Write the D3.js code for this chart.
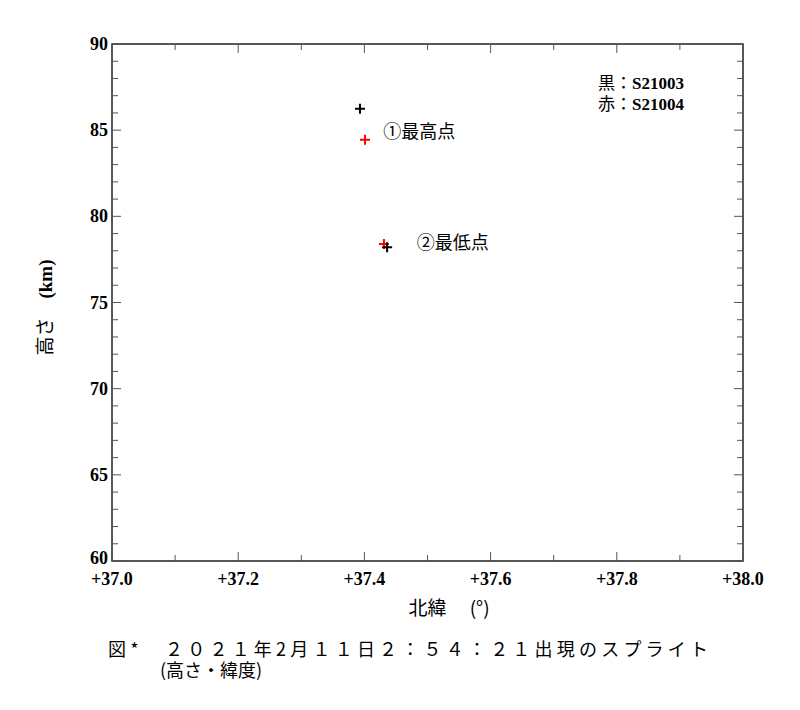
<!DOCTYPE html>
<html><head><meta charset="utf-8">
<script src="https://cdn.jsdelivr.net/npm/d3@7"></script>
<style>body{margin:0;background:#fff}</style></head>
<body><svg id="c" width="800" height="710"></svg>
<script>
const blackPts = [[37.393, 86.25], [37.436, 78.2]];
const redPts = [[37.401, 84.45], [37.431, 78.4]];
const xTicks = [37.0, 37.2, 37.4, 37.6, 37.8, 38.0];
const yTicks = [60, 65, 70, 75, 80, 85, 90];
const labels = [["①最高点", 37.43, 84.55], ["②最低点", 37.483, 78.1]];

const svg = d3.select("#c");
const L=112,R=743,T=44,B=561;
const x = d3.scaleLinear().domain([37,38]).range([L,R]);
const y = d3.scaleLinear().domain([60,90]).range([B,T]);
const serif = "'Liberation Serif','DejaVu Serif',serif";
const jp = "'Noto Sans CJK JP',sans-serif";
svg.append("rect").attr("x",L).attr("y",T).attr("width",R-L).attr("height",B-T).attr("fill","none").attr("stroke","#222").attr("stroke-width",1.5);
const g = svg.append("g").attr("stroke","#555").attr("stroke-width",1);
d3.range(37,38.001,0.1).forEach((v,i)=>{const len=i%2?6:9;
 g.append("line").attr("x1",x(v)).attr("x2",x(v)).attr("y1",B).attr("y2",B-len);
 g.append("line").attr("x1",x(v)).attr("x2",x(v)).attr("y1",T).attr("y2",T+len);});
d3.range(60,90.001,1).forEach((v,i)=>{const len=i%5?6:9;
 g.append("line").attr("y1",y(v)).attr("y2",y(v)).attr("x1",L).attr("x2",L+len);
 g.append("line").attr("y1",y(v)).attr("y2",y(v)).attr("x1",R).attr("x2",R-len);});
xTicks.forEach(v=>svg.append("text").attr("x",x(v)).attr("y",B+24).attr("text-anchor","middle")
 .attr("font-family",serif).attr("font-weight","bold").attr("font-size",18).text("+"+v.toFixed(1)));
yTicks.forEach(v=>svg.append("text").attr("x",L-4).attr("y",y(v)+(v===60?3:6)).attr("text-anchor","end")
 .attr("font-family",serif).attr("font-weight","bold").attr("font-size",18).text(v));
function cross(p,c){const cx=x(p[0]),cy=y(p[1]);
 svg.append("path").attr("d",`M${cx-5},${cy}H${cx+5}M${cx},${cy-5}V${cy+5}`).attr("stroke",c).attr("stroke-width",2);}
redPts.forEach(p=>cross(p,"red"));
blackPts.forEach(p=>cross(p,"black"));
labels.forEach(l=>svg.append("text").attr("x",x(l[1])).attr("y",y(l[2])).attr("font-family",jp).attr("font-size",18).text(l[0]));
[["黒：","S21003",89],["赤：","S21004",110]].forEach(a=>{const t=svg.append("text").attr("x",598).attr("y",a[2]).attr("font-size",17);
 t.append("tspan").attr("font-family",jp).text(a[0]);
 t.append("tspan").attr("font-family",serif).attr("font-weight","bold").text(a[1]);});
svg.append("text").attr("x",449).attr("y",615).attr("text-anchor","middle").attr("font-family",jp).attr("font-size",19).text("北緯　 (°)");
svg.append("text").attr("transform",`translate(52,${(T+B)/2+5}) rotate(-90)`).attr("text-anchor","middle").attr("font-size",19)
 .call(t=>{t.append("tspan").attr("font-family",jp).text("高さ　");t.append("tspan").attr("font-family",serif).attr("font-weight","bold").text("(km)");});
svg.append("text").attr("x",108).attr("y",656).attr("font-family",jp).attr("font-size",18)
 .attr("textLength",600).attr("lengthAdjust","spacing").text("図*　２０２１年2月１１日２：５４：２１出現のスプライト");
svg.append("text").attr("x",160).attr("y",677).attr("font-family",jp).attr("font-size",18).text("(高さ・緯度)");
</script></body></html>
